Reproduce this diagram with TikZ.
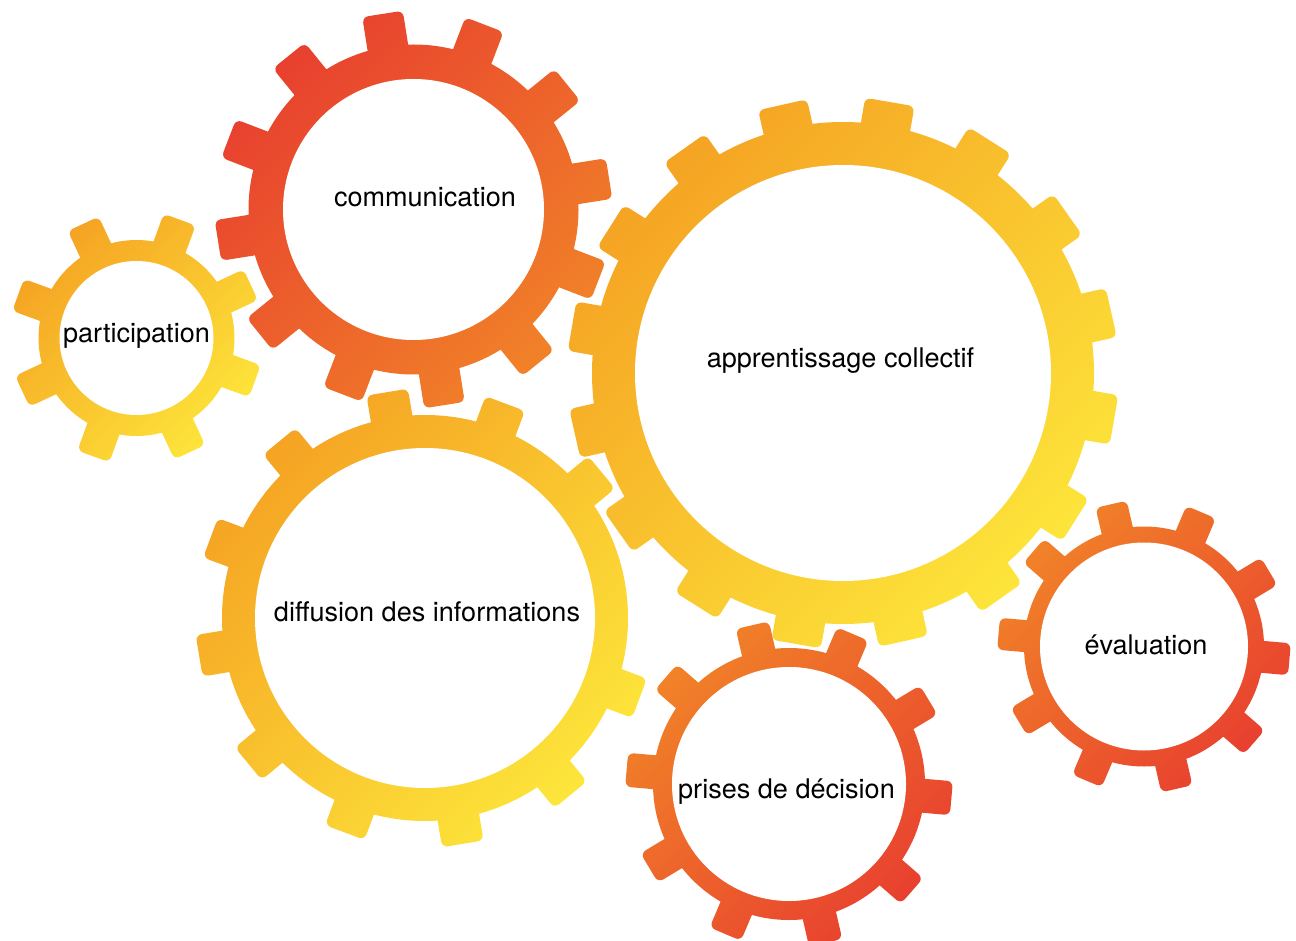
\documentclass[tikz,border=0pt]{standalone}
\usepackage{fontspec}
\usepackage{tikz}
\newfontfamily\gearfont{TeX Gyre Heros}
\definecolor{gorange}{RGB}{245,163,35}
\definecolor{gyellow}{RGB}{253,229,58}
\definecolor{gred}{RGB}{232,64,47}
\definecolor{gamber}{RGB}{241,130,40}

\begin{document}
\begin{tikzpicture}[x=0.75pt,y=0.75pt,yscale=-1,xscale=1,
  sunny/.style={top color=gorange, bottom color=gyellow, shading angle=45, rounded corners=4.5pt},
  redhot/.style={top color=gred, bottom color=gamber, shading angle=45, rounded corners=4.5pt},
  ember/.style={top color=gamber, bottom color=gred, shading angle=45, rounded corners=4.5pt},
  hole/.style={fill=white},
  lbl/.style={anchor=base, inner sep=0.75pt, font=\gearfont\fontsize{20.3}{24}\selectfont}]
\useasboundingbox (0,0) rectangle (1296,941);

%Shape: Gear [participation]
\begin{scope}[shift={(136.5,338)}]
\shade [sunny] (0,0) circle (98)
  \foreach \a in {20,65,...,335} { ([rotate=\a]90,-17) -- ([rotate=\a]126,-17) -- ([rotate=\a]126,17) -- ([rotate=\a]90,17) -- cycle };
\fill [hole] (0,0) circle (77);
\end{scope}

%Shape: Gear [communication]
\begin{scope}[shift={(413.5,209.5)}]
\shade [redhot] (0,0) circle (165)
  \foreach \a in {21,51,...,351} { ([rotate=\a]157,-20.5) -- ([rotate=\a]198,-20.5) -- ([rotate=\a]198,20.5) -- ([rotate=\a]157,20.5) -- cycle };
\fill [hole] (0,0) circle (130.5);
\end{scope}

%Shape: Gear [apprentissage collectif]
\begin{scope}[shift={(843,373)}]
\shade [sunny] (0,0) circle (251)
  \foreach \a in {9.8,32.3,...,350} { ([rotate=\a]242,-25) -- ([rotate=\a]275,-25) -- ([rotate=\a]275,25) -- ([rotate=\a]242,25) -- cycle };
\fill [hole] (0,0) circle (208);
\end{scope}

%Shape: Gear [diffusion des informations]
\begin{scope}[shift={(425,618)}]
\shade [sunny] (0,0) circle (203)
  \foreach \a in {20.5,50.5,...,350} { ([rotate=\a]195,-21) -- ([rotate=\a]229,-21) -- ([rotate=\a]229,21) -- ([rotate=\a]195,21) -- cycle };
\fill [hole] (0,0) circle (170);
\end{scope}

%Shape: Gear [prises de decision]
\begin{scope}[shift={(789,784)}]
\shade [ember] (0,0) circle (136)
  \foreach \a in {5,41,...,350} { ([rotate=\a]128,-17) -- ([rotate=\a]163,-17) -- ([rotate=\a]163,17) -- ([rotate=\a]128,17) -- cycle };
\fill [hole] (0,0) circle (117);
\end{scope}

%Shape: Gear [evaluation]
\begin{scope}[shift={(1144,646.5)}]
\shade [ember] (0,0) circle (120)
  \foreach \a in {5,41,...,350} { ([rotate=\a]112,-16) -- ([rotate=\a]146,-16) -- ([rotate=\a]146,16) -- ([rotate=\a]112,16) -- cycle };
\fill [hole] (0,0) circle (104);
\end{scope}

% Text Node
\node (part) at (136.5,343) [lbl] {participation};
% Text Node
\node (comm) at (425,207) [lbl] {communication};
% Text Node
\node (appr) at (840.5,368) [lbl] {apprentissage collectif};
% Text Node
\node (diff) at (427,621.5) [lbl] {diffusion des informations};
% Text Node
\node (deci) at (786.5,798) [lbl] {prises de décision};
% Text Node
\node (eval) at (1146,654) [lbl] {évaluation};

\end{tikzpicture}
\end{document}
